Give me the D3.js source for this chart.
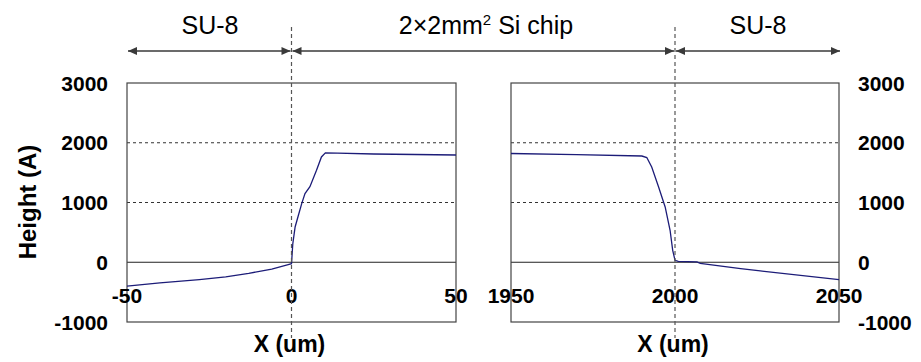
<!DOCTYPE html>
<html>
<head>
<meta charset="utf-8">
<script src="https://cdn.jsdelivr.net/npm/d3@7"></script>
<style>
  html, body { margin: 0; padding: 0; background: #fff; }
  svg { display: block; }
  text { font-family: "Liberation Sans", Arial, sans-serif; fill: #000; }
</style>
</head>
<body>
<svg id="chart" width="921" height="362"></svg>
<script>
// Step height profile across the chip edges (x in um, height in Angstrom)
const leftX  = [-50, -40, -28, -20, -13, -6, -1, 0, 0.4, 1.1, 2.1, 3.1, 4.1, 5.6, 7.6, 9.1, 10.3, 14, 25, 50];
const leftY  = [-400, -345, -290, -245, -185, -115, -40, -25, 313, 590, 787, 982, 1150, 1265, 1540, 1762, 1830, 1825, 1812, 1795];
const rightX = [1950, 1970, 1989.9, 1991.4, 1992.9, 1995, 1997, 1998.5, 1999.3, 2000, 2001, 2006.7, 2007.7, 2020, 2026, 2050];
const rightY = [1820, 1800, 1778, 1752, 1595, 1260, 925, 535, 200, 33, 15, 5, -20, -105, -145, -290];

const yTicks = [-1000, 0, 1000, 2000, 3000];
const leftTicks = [-50, 0, 50];
const rightTicks = [1950, 2000, 2050];
const gridValues = [1000, 2000];

const regionLabels = ["SU-8", "2\u00d72mm", "SU-8"];

const svg = d3.select("#chart");

const plotTop = 83, plotBottom = 322;
const y = d3.scaleLinear().domain([-1000, 3000]).range([plotBottom, plotTop]);
const xL = d3.scaleLinear().domain([-50, 50]).range([127, 456]);
const xR = d3.scaleLinear().domain([1950, 2050]).range([511, 839]);

const lineColor = "#1c1c78";

function panel(x, xs, ys, ticks) {
  const g = svg.append("g");
  const [x0, x1] = x.range();
  // dashed gridlines
  g.selectAll("line.grid").data(gridValues).join("line")
    .attr("x1", x0).attr("x2", x1)
    .attr("y1", d => y(d)).attr("y2", d => y(d))
    .attr("stroke", "#333").attr("stroke-width", 1)
    .attr("stroke-dasharray", "3,3");
  // zero line
  g.append("line")
    .attr("x1", x0).attr("x2", x1)
    .attr("y1", y(0)).attr("y2", y(0))
    .attr("stroke", "#222").attr("stroke-width", 1.2);
  // plot frame
  g.append("rect")
    .attr("x", x0).attr("y", plotTop)
    .attr("width", x1 - x0).attr("height", plotBottom - plotTop)
    .attr("fill", "none").attr("stroke", "#444").attr("stroke-width", 1.2);
  // profile
  const line = d3.line().x(d => x(d[0])).y(d => y(d[1]));
  g.append("path")
    .datum(d3.zip(xs, ys))
    .attr("d", line)
    .attr("fill", "none")
    .attr("stroke", lineColor)
    .attr("stroke-width", 1.3);
  // x tick labels
  g.selectAll("text.xt").data(ticks).join("text")
    .attr("x", d => x(d)).attr("y", 303)
    .attr("text-anchor", "middle")
    .attr("font-size", 21).attr("font-weight", "bold")
    .text(d => d);
  // x axis title
  g.append("text")
    .attr("x", (x0 + x1) / 2 - 2).attr("y", 352)
    .attr("text-anchor", "middle")
    .attr("font-size", 23).attr("font-weight", "bold")
    .text("X (um)");
  return g;
}

panel(xL, leftX, leftY, leftTicks);
panel(xR, rightX, rightY, rightTicks);

// y tick labels, left and right
svg.selectAll("text.yl").data(yTicks).join("text")
  .attr("x", 108).attr("y", d => y(d)).attr("dy", "0.36em")
  .attr("text-anchor", "end")
  .attr("font-size", 21).attr("font-weight", "bold")
  .text(d => d);
svg.selectAll("text.yr").data(yTicks).join("text")
  .attr("x", 858).attr("y", d => y(d)).attr("dy", "0.36em")
  .attr("text-anchor", "start")
  .attr("font-size", 21).attr("font-weight", "bold")
  .text(d => d);

// y axis title
svg.append("text")
  .attr("transform", "translate(36,202) rotate(-90)")
  .attr("text-anchor", "middle")
  .attr("font-size", 24).attr("font-weight", "bold")
  .text("Height (A)");

// chip edge markers
const edges = [xL(0), xR(2000)];
svg.selectAll("line.edge").data(edges).join("line")
  .attr("x1", d => d).attr("x2", d => d)
  .attr("y1", 27).attr("y2", 338)
  .attr("stroke", "#555").attr("stroke-width", 1.2)
  .attr("stroke-dasharray", "4,3");

// region arrows
const arrowY = 51;
const arrowColor = "#3a3a3a";
const spans = [
  [xL(-50) + 1, edges[0] - 1],
  [edges[0] + 1, edges[1] - 1],
  [edges[1] + 1, xR(2050) + 1]
];
function arrowHead(tipX, dir) {
  const len = 9, half = 4;
  svg.append("path")
    .attr("d", `M${tipX},${arrowY} L${tipX - dir * len},${arrowY - half} L${tipX - dir * len},${arrowY + half} Z`)
    .attr("fill", arrowColor);
}
spans.forEach(([a, b]) => {
  svg.append("line")
    .attr("x1", a).attr("x2", b)
    .attr("y1", arrowY).attr("y2", arrowY)
    .attr("stroke", arrowColor).attr("stroke-width", 1.5);
  arrowHead(a, -1);
  arrowHead(b, 1);
});

// region labels
const labelY = 34;
svg.append("text")
  .attr("x", 210).attr("y", labelY)
  .attr("text-anchor", "middle").attr("font-size", 25)
  .text(regionLabels[0]);
svg.append("text")
  .attr("x", 758).attr("y", labelY)
  .attr("text-anchor", "middle").attr("font-size", 25)
  .text(regionLabels[2]);
const chip = svg.append("text")
  .attr("x", 486).attr("y", labelY)
  .attr("text-anchor", "middle").attr("font-size", 25);
chip.append("tspan").text(regionLabels[1]);
chip.append("tspan").attr("font-size", 15).attr("dy", -9).text("2");
chip.append("tspan").attr("dy", 9).text(" Si chip");
</script>
</body>
</html>
